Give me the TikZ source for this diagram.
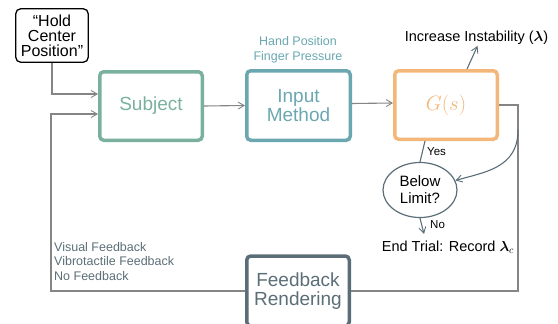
\documentclass[tikz,border=0pt]{standalone}
\usepackage{fontspec}
\usepackage{amsmath}
\setmainfont{Liberation Sans}
\usetikzlibrary{arrows.meta,shapes.geometric}
\definecolor{subjg}{HTML}{79B09E}
\definecolor{inpt}{HTML}{6AA7B0}
\definecolor{gorg}{HTML}{F2B779}
\definecolor{slate}{HTML}{5B6E77}
\definecolor{lgray}{HTML}{858585}
\begin{document}
\begin{tikzpicture}[x=1pt,y=-1pt,
  blk/.style={draw=#1,text=#1,line width=3.5pt,rounded corners=4pt,minimum width=102.5pt,minimum height=68.5pt,align=center,inner sep=0pt,font=\fontsize{19}{19}\selectfont},
  conn/.style={draw=lgray,line width=1.1pt},
  tip/.style={-{Straight Barb[length=6pt,width=7pt,line width=0.9pt]}},
  sconn/.style={draw=slate,line width=1.1pt}]
\useasboundingbox (0,0) rectangle (558,324);
% nodes
\node[draw=black,line width=1.3pt,rounded corners=5pt,minimum width=72.5pt,minimum height=53.5pt,align=center,inner sep=0pt,font=\fontsize{16}{15}\selectfont] (hold) at (52,35.5) {``Hold\\Center\\Position''};
\node[blk=subjg] (subject) at (151,106) {Subject};
\node[blk=inpt,minimum width=103.5pt,minimum height=69.5pt] (input) at (298.5,105.5) {Input\\Method};
\node[blk=gorg] (G) at (446,105) {\fontsize{19.5}{19.5}\selectfont$G(s)$};
\node[blk=slate,minimum height=70pt] (fb) at (298,291) {Feedback\\Rendering};
\node[draw=slate,line width=1.2pt,ellipse,minimum width=74pt,minimum height=55pt,inner sep=0pt,align=center,font=\fontsize{15}{17}\selectfont] (below) at (420,190) {Below\\Limit?};
% labels
\node[text=inpt,align=center,font=\fontsize{12.5}{15}\selectfont] (hp) at (298,49.5) {Hand Position\\Finger Pressure};
\node[font=\fontsize{14.5}{16}\selectfont,inner sep=1pt] (inc) at (476.5,38) {Increase Instability ($\boldsymbol{\lambda}$)};
\node[font=\fontsize{14.5}{16}\selectfont,inner sep=1pt] (endt) at (448,247) {End Trial: Record $\boldsymbol{\lambda}_{c}$};
\node[text=slate,align=left,anchor=north west,inner sep=0pt,font=\fontsize{12.5}{14.5}\selectfont] (fbl) at (54,242) {Visual Feedback\\Vibrotactile Feedback\\No Feedback};
\node[anchor=west,inner sep=0pt,font=\fontsize{11.5}{12}\selectfont] (yes) at (427,152) {Yes};
\node[anchor=west,inner sep=0pt,font=\fontsize{11.5}{12}\selectfont] (no) at (430,225) {No};
% coordinates
\coordinate (rt) at (518,105);
\coordinate (lb) at (51,291);
\coordinate (cs) at (518,130);
\coordinate (nohead) at (424,234);
% connectors
\draw[conn,tip] (hold.south) |- ([yshift=12pt]subject.west);
\draw[conn,tip] (subject.east) -- (input.west);
\draw[conn,tip] ([yshift=2pt]input.east) -- ([yshift=2pt]G.west);
\draw[conn] (G.east) -- (rt) |- (fb.east);
\draw[conn,tip] (fb.west) -- (lb) |- ([yshift=-8pt]subject.west);
\draw[sconn,tip] ([xshift=21pt]G.north) -- ([xshift=1pt]inc.south);
\draw[sconn] ([xshift=-21pt]G.south) -- (below.north);
\draw[sconn,tip] (cs) .. controls (518,168) and (485,172) .. (below.15);
\draw[sconn,tip] (below.south) -- (nohead);
\end{tikzpicture}
\end{document}
